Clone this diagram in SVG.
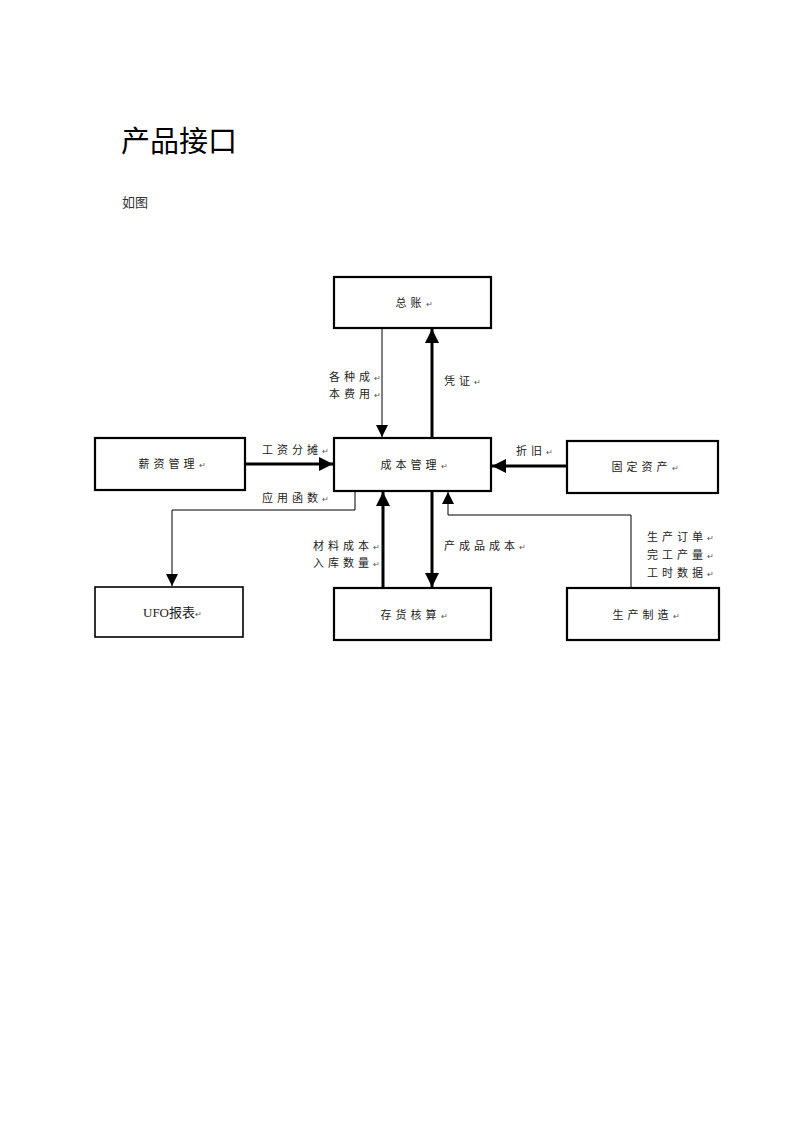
<svg xmlns="http://www.w3.org/2000/svg" width="800" height="1131" viewBox="0 0 800 1131">
<style>
.box{fill:#fff;stroke:#000;stroke-width:2.2}
.thin{fill:none;stroke:#000;stroke-width:1}
.thick{fill:none;stroke:#000;stroke-width:3}
.lbl{font-family:"Noto Sans CJK SC","Noto Sans",sans-serif;font-size:11px;letter-spacing:4px;fill:#222}
.nd{font-family:"Noto Sans CJK SC","Noto Sans",sans-serif;font-size:11px;letter-spacing:4px;fill:#222;text-anchor:middle}
.rm{font-size:8px;letter-spacing:0;fill:#555}
</style>
<defs>
<marker id="ah" viewBox="0 0 10 10" refX="10" refY="5" markerWidth="12" markerHeight="12" markerUnits="userSpaceOnUse" orient="auto"><path d="M0,0 L10,5 L0,10 z" fill="#000"/></marker>
<marker id="ahb" viewBox="0 0 10 10" refX="10" refY="5" markerWidth="14" markerHeight="14" markerUnits="userSpaceOnUse" orient="auto"><path d="M0,0 L10,5 L0,10 z" fill="#000"/></marker>
</defs>
<rect width="800" height="1131" fill="#fff"/>
<text x="121" y="152" font-family="'Liberation Serif','Noto Sans CJK SC',serif" font-size="29" fill="#000">产品接口</text>
<text x="122" y="207" font-family="'Liberation Serif','Noto Sans CJK SC',serif" font-size="13" fill="#333">如图</text>

<g id="connectors">
<line class="thin" x1="382" y1="328" x2="382" y2="437" marker-end="url(#ah)"/>
<line class="thick" x1="432" y1="438" x2="432" y2="329" marker-end="url(#ahb)"/>
<line class="thick" x1="245" y1="464" x2="333" y2="464" marker-end="url(#ahb)"/>
<line class="thick" x1="567" y1="466" x2="492" y2="466" marker-end="url(#ahb)"/>
<polyline class="thin" points="355,491 355,510 172,510 172,586" marker-end="url(#ah)"/>
<line class="thick" x1="383" y1="588" x2="383" y2="492" marker-end="url(#ahb)"/>
<line class="thick" x1="432" y1="491" x2="432" y2="587" marker-end="url(#ahb)"/>
<polyline class="thin" points="631,588 631,515 448,515 448,492" marker-end="url(#ah)"/>
<text class="lbl" x="329" y="381">各种成<tspan class="rm">↵</tspan></text>
<text class="lbl" x="329" y="398">本费用<tspan class="rm">↵</tspan></text>
<text class="lbl" x="444" y="385">凭证<tspan class="rm">↵</tspan></text>
<text class="lbl" x="262" y="454">工资分摊<tspan class="rm">↵</tspan></text>
<text class="lbl" x="516" y="455">折旧<tspan class="rm">↵</tspan></text>
<text class="lbl" x="262" y="502">应用函数<tspan class="rm">↵</tspan></text>
<text class="lbl" x="313" y="550">材料成本<tspan class="rm">↵</tspan></text>
<text class="lbl" x="313" y="567">入库数量<tspan class="rm">↵</tspan></text>
<text class="lbl" x="444" y="550">产成品成本<tspan class="rm">↵</tspan></text>
<text class="lbl" x="647" y="541">生产订单<tspan class="rm">↵</tspan></text>
<text class="lbl" x="647" y="559">完工产量<tspan class="rm">↵</tspan></text>
<text class="lbl" x="647" y="577">工时数据<tspan class="rm">↵</tspan></text>
</g>

<g id="n-zongzhang"><rect class="box" x="334" y="277" width="157" height="51"/><text class="nd" x="414" y="307">总账<tspan class="rm">↵</tspan></text></g>
<g id="n-chengben"><rect class="box" x="334" y="438" width="157" height="53"/><text class="nd" x="414" y="469">成本管理<tspan class="rm">↵</tspan></text></g>
<g id="n-xinzi"><rect class="box" x="95" y="438" width="150" height="52"/><text class="nd" x="172" y="468">薪资管理<tspan class="rm">↵</tspan></text></g>
<g id="n-guding"><rect class="box" x="567" y="441" width="151" height="52"/><text class="nd" x="645" y="471">固定资产<tspan class="rm">↵</tspan></text></g>
<g id="n-ufo"><rect class="box" x="95" y="587" width="148" height="50" style="stroke-width:1.6"/><text x="143" y="617" font-family="'Liberation Serif','Noto Sans CJK SC',serif" font-size="13" fill="#222">UFO报表<tspan class="rm" font-family="'Noto Sans',sans-serif">↵</tspan></text></g>
<g id="n-cunhuo"><rect class="box" x="334" y="588" width="157" height="52"/><text class="nd" x="414" y="619">存货核算<tspan class="rm">↵</tspan></text></g>
<g id="n-shengchan"><rect class="box" x="567" y="588" width="152" height="52"/><text class="nd" x="646" y="619">生产制造<tspan class="rm">↵</tspan></text></g>
</svg>
